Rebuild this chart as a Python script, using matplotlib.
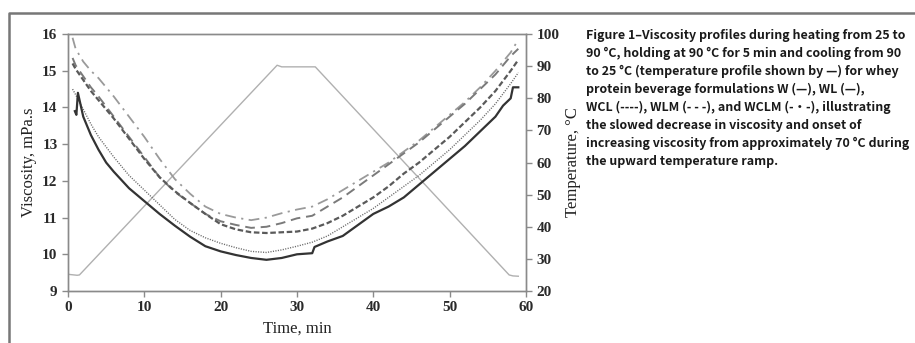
import matplotlib
matplotlib.use("Agg")
import matplotlib.pyplot as plt
from matplotlib.lines import Line2D

# temperature programme, deg C
temp_time = [0, 1.2, 1.5, 27.4, 28.0, 32.4, 57.8, 58.3, 59.0]
temp_c = [25.2, 24.9, 25.0, 90.3, 89.8, 89.8, 25.0, 24.7, 24.6]

# W has its own time base (start spike + step at 32 min)
time_w = [0.9, 1.1, 1.3, 2, 3, 4, 5, 6, 8, 10, 12, 14, 16, 18, 20, 22, 24,
          26, 28, 30, 32, 32.3, 34, 36, 38, 40, 42, 44, 46, 48, 50, 52, 54,
          56, 57, 58, 58.3, 59]
visc_w = [13.9, 13.8, 14.4, 13.75, 13.25, 12.85, 12.5, 12.25, 11.8, 11.45,
          11.1, 10.78, 10.48, 10.22, 10.08, 9.98, 9.9, 9.85, 9.9, 10.0, 10.03,
          10.2, 10.35, 10.5, 10.8, 11.1, 11.3, 11.55, 11.9, 12.25, 12.6, 12.95,
          13.35, 13.75, 14.05, 14.25, 14.55, 14.55]

time_grid = [0.6, 1, 2, 3, 4, 6, 8, 10, 12, 14, 16, 18, 20, 22, 24, 26, 28,
             30, 32, 34, 36, 38, 40, 42, 44, 46, 48, 50, 52, 54, 56, 58, 59]
visc_wl = [14.5, 14.35, 13.95, 13.55, 13.2, 12.65, 12.15, 11.75, 11.35, 10.95,
           10.65, 10.45, 10.3, 10.18, 10.08, 10.05, 10.12, 10.22, 10.33, 10.5,
           10.75, 11.0, 11.25, 11.55, 11.85, 12.15, 12.5, 12.85, 13.25, 13.65,
           14.1, 14.65, 14.95]
visc_wcl = [15.2, 15.05, 14.75, 14.45, 14.2, 13.7, 13.15, 12.6, 12.1, 11.72,
            11.4, 11.1, 10.82, 10.68, 10.6, 10.58, 10.6, 10.62, 10.7, 10.85,
            11.05, 11.3, 11.55, 11.85, 12.2, 12.5, 12.85, 13.2, 13.6, 14.0,
            14.45, 15.0, 15.3]
visc_wlm = [15.35, 15.15, 14.85, 14.55, 14.3, 13.75, 13.2, 12.65, 12.1, 11.7,
            11.4, 11.1, 10.9, 10.8, 10.72, 10.75, 10.85, 10.98, 11.05, 11.3,
            11.55, 11.85, 12.15, 12.45, 12.75, 13.05, 13.4, 13.75, 14.1, 14.5,
            14.9, 15.4, 15.6]
visc_wclm = [15.9, 15.6, 15.25, 15.0, 14.8, 14.3, 13.75, 13.2, 12.6, 12.05,
             11.65, 11.3, 11.1, 11.0, 10.93, 11.0, 11.12, 11.22, 11.3, 11.5,
             11.75, 12.0, 12.25, 12.5, 12.8, 13.1, 13.45, 13.8, 14.15, 14.55,
             15.0, 15.5, 15.85]

CAPTION = (
    "Figure 1\u2013Viscosity profiles during heating from 25 to\n"
    "90 \u00b0C, holding at 90 \u00b0C for 5 min and cooling from 90\n"
    "to 25 \u00b0C (temperature profile shown by \u2014) for whey\n"
    "protein beverage formulations W (\u2014), WL (\u2014),\n"
    "WCL (----), WLM (- - -), and WCLM (-\u00b7-), illustrating\n"
    "the slowed decrease in viscosity and onset of\n"
    "increasing viscosity from approximately 70 \u00b0C during\n"
    "the upward temperature ramp."
)

SERIF = ["Liberation Serif", "DejaVu Serif"]
AX_GREY = "#8a8a8a"

fig = plt.figure(figsize=(9.15, 3.43), dpi=100)
ax = fig.add_axes([0.0743, 0.1516, 0.5005, 0.749])
ax2 = ax.twinx()

ax2.plot(temp_time, temp_c, color="#b0b0b0", lw=1.0, zorder=1)

ax.plot(time_grid, visc_wclm, color="#9a9a9a", lw=1.3, dashes=(6, 3, 1.2, 3))
ax.plot(time_grid, visc_wlm, color="#7a7a7a", lw=1.4, dashes=(5, 3))
ax.plot(time_grid, visc_wcl, color="#5a5a5a", lw=1.6, dashes=(2.5, 1.2))
ax.plot(time_grid, visc_wl, color="#6a6a6a", lw=1.0, dashes=(0.8, 1.0))
ax.plot(time_w, visc_w, color="#333333", lw=1.6)

ax.set_xlim(0, 60)
ax.set_ylim(9, 16)
ax2.set_ylim(20, 100)
ax.set_zorder(ax2.get_zorder() + 1)
ax.patch.set_visible(False)

ax.set_xticks(range(0, 61, 10))
ax.set_yticks(range(9, 17))
ax2.set_yticks(range(20, 101, 10))

for a in (ax, ax2):
    for sp in a.spines.values():
        sp.set_color(AX_GREY)
        sp.set_linewidth(1.0)
    a.tick_params(colors=AX_GREY, length=4, width=1.0, direction="out",
                  labelcolor="#2a2a2a", labelsize=11)
    for lab in a.get_xticklabels() + a.get_yticklabels():
        lab.set_fontfamily(SERIF)
        lab.set_fontweight("bold")

ax.set_xlabel("Time, min", fontsize=12, family=SERIF, color="#222222")
ax.set_ylabel("Viscosity, mPa.s", fontsize=12, family=SERIF, color="#222222")
ax2.set_ylabel("Temperature, \u00b0C", fontsize=12, family=SERIF, color="#222222")
ax.xaxis.set_label_coords(0.5, -0.115)
ax.yaxis.set_label_coords(-0.068, 0.5)
ax2.yaxis.set_label_coords(1.085, 0.5)

# caption; the CJK face carries a narrow Latin design close to the original
fig.text(0.6405, 0.915, CAPTION, ha="left", va="top", fontsize=8.95,
         family=["Noto Sans CJK SC", "DejaVu Sans"], fontweight="bold",
         color="#1a1a1a", linespacing=1.48)

# outer frame of the figure panel
fig.add_artist(Line2D([0.0098, 0.0098, 1.0], [0.0, 0.963, 0.963],
                      transform=fig.transFigure, color="#777777", lw=1.8))

fig.savefig("out.png", dpi=100)
